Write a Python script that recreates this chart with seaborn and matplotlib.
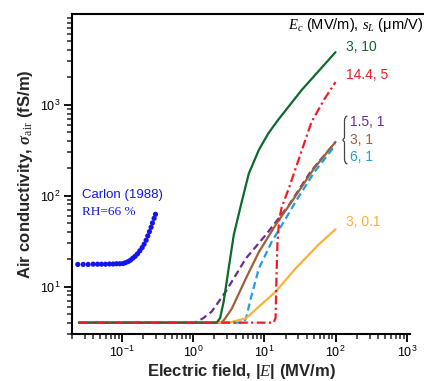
import numpy as np
import pandas as pd
import matplotlib
matplotlib.use("Agg")
import matplotlib.pyplot as plt
from matplotlib.lines import Line2D
from matplotlib.path import Path
from matplotlib.patches import PathPatch
from matplotlib.ticker import LogLocator, NullFormatter
import seaborn as sns

# ---------------- data ----------------
# Carlon (1988), RH = 66 %
carlon_E = [0.0241, 0.0287, 0.0337, 0.0396, 0.0456, 0.0518, 0.0590, 0.0671, 0.0755,
            0.0842, 0.0937, 0.104, 0.1126, 0.1227, 0.1323, 0.1427, 0.1538, 0.166,
            0.179, 0.193, 0.2057, 0.2195, 0.2317, 0.2445, 0.258, 0.2693, 0.2843, 0.297]
carlon_s = [17.5, 17.5, 17.5, 17.6, 17.6, 17.6, 17.6, 17.7, 17.7,
            17.8, 17.8, 17.9, 18.3, 18.8, 19.5, 20.5, 21.5, 22.9,
            24.7, 26.8, 29.2, 32.3, 36.1, 40.2, 44.9, 50.1, 56.3, 62.4]

# model curves: E (MV/m) and sigma (fS/m)
green_E = [0.025, 2.15, 2.4, 2.69, 3.16, 3.73, 4.83, 6.05, 8.4, 11.5, 15.8, 33.6, 100]
green_s = [4, 4, 4.5, 6.8, 15.8, 37, 86, 174, 320, 490, 690, 1460, 3800]

red_E = [0.025, 13.5, 14.4, 14.8, 15.3, 16.2, 17.6, 22, 30, 46, 70, 100]
red_s = [4, 4, 4.5, 12, 30, 55, 75, 119, 243, 646, 1160, 1780]

purple_E = [0.025, 1.0, 1.13, 1.4, 1.83, 2.88, 5.5, 10.5, 22, 45, 100]
purple_s = [4, 4, 4.1, 4.5, 5.3, 8.8, 20.3, 37, 78, 185, 390]

brown_E = [0.025, 2.5, 2.8, 3.5, 5.5, 8.4, 14.5, 24.3, 50, 100]
brown_s = [4, 4, 4.4, 5.7, 12.2, 24, 48, 86, 200, 390]

blue_E = [0.025, 5.15, 5.6, 6.46, 8.4, 12.7, 20, 27.5, 50, 100]
blue_s = [4, 4, 4.6, 7.4, 15.8, 31, 56, 86, 180, 363]

orange_E = [0.025, 3.18, 5.5, 9, 14.5, 27.5, 58, 100]
orange_s = [4, 4, 4.45, 6.3, 8.8, 15.8, 29, 42.6]

labels = ["3, 10", "14.4, 5", "1.5, 1", "3, 1", "6, 1", "3, 0.1"]

# ---------------- style ----------------
sns.set_theme(style="ticks")
plt.rcParams["font.family"] = ["Liberation Sans", "DejaVu Sans"]
plt.rcParams["mathtext.fontset"] = "custom"
plt.rcParams["mathtext.rm"] = "Liberation Serif"
plt.rcParams["mathtext.it"] = "Liberation Serif:italic"
plt.rcParams["mathtext.bf"] = "Liberation Serif:bold"
plt.rcParams["mathtext.bfit"] = "Liberation Serif:italic:bold"

W, H = 424, 381
fig = plt.figure(figsize=(W / 100, H / 100), dpi=100)
L, R, T, B = 72, 410, 14, 334
ax = fig.add_axes([L / W, 1 - B / H, (R - L) / W, (B - T) / H])

c_green = "#0b6a2c"
c_red = "#ee1c25"
c_purple = "#6b2d8f"
c_brown = "#9c6236"
c_blue = "#1ea0e0"
c_orange = "#fbb03b"
c_carlon = "#1414f0"

lw = 1.6
sns.lineplot(x=purple_E, y=purple_s, ax=ax, color=c_purple, lw=lw, linestyle=(0, (3.2, 1.8)))
sns.lineplot(x=brown_E, y=brown_s, ax=ax, color=c_brown, lw=lw)
sns.lineplot(x=blue_E, y=blue_s, ax=ax, color=c_blue, lw=lw, linestyle=(0, (3.2, 1.8)))
sns.lineplot(x=orange_E, y=orange_s, ax=ax, color=c_orange, lw=lw)
sns.lineplot(x=green_E, y=green_s, ax=ax, color=c_green, lw=lw)
sns.lineplot(x=red_E, y=red_s, ax=ax, color=c_red, lw=lw, linestyle=(0, (4, 1.5, 1, 1.5)))
sns.scatterplot(x=carlon_E, y=carlon_s, ax=ax, color=c_carlon, s=14, edgecolor="none")

ax.set_xscale("log")
ax.set_yscale("log")
ax.set_xlim(0.02, 1110)
ax.set_ylim(3, 10000)

ax.xaxis.set_major_locator(LogLocator(base=10, numticks=10))
ax.xaxis.set_minor_locator(LogLocator(base=10, subs=np.arange(2, 10), numticks=20))
ax.yaxis.set_major_locator(LogLocator(base=10, numticks=10))
ax.yaxis.set_minor_locator(LogLocator(base=10, subs=np.arange(2, 10), numticks=20))
ax.xaxis.set_minor_formatter(NullFormatter())
ax.yaxis.set_minor_formatter(NullFormatter())
ax.set_xticks([0.1, 1, 10, 100, 1000])
ax.set_yticks([10, 100, 1000])

ax.tick_params(which="major", direction="out", length=6, width=1.3, labelsize=9,
               colors="black", pad=2)
ax.tick_params(which="minor", direction="out", length=3.5, width=1.1)
for side in ["left", "bottom", "top"]:
    ax.spines[side].set_linewidth(1.5)
    ax.spines[side].set_color("black")
ax.spines["right"].set_visible(False)
fig.add_artist(Line2D([R / W, 1.0], [1 - T / H, 1 - T / H], transform=fig.transFigure,
                      color="black", lw=1.5, solid_capstyle="butt"))

ax.set_xlabel(r"Electric field, |$E$| (MV/m)", fontsize=12, fontweight="bold", labelpad=1)
ax.set_ylabel(r"Air conductivity, $\boldsymbol{\sigma}_{\mathrm{air}}$ (fS/m)",
              fontsize=12, fontweight="bold", labelpad=4)

def axpos(px, py):
    return (px - L) / (R - L), (B - py) / (B - T)

def put(px, py, s, color, **kw):
    x, y = axpos(px, py)
    ax.text(x, y, s, transform=ax.transAxes, color=color, va="center", ha="left", **kw)

put(288, 25, r"$E_c$ (MV/m), $s_L$ (μm/V)", "black", fontsize=10.5)
put(346, 47, labels[0], c_green, fontsize=10)
put(346, 75, labels[1], c_red, fontsize=10)
put(350, 122, labels[2], c_purple, fontsize=10)
put(350, 140, labels[3], c_brown, fontsize=10)
put(350, 157, labels[4], c_blue, fontsize=10)
put(346, 222, labels[5], c_orange, fontsize=10)
put(82, 195, "Carlon (1988)", c_carlon, fontsize=9.5)
put(82, 212, "RH=66 %", c_carlon, fontsize=9.5, family="Liberation Serif")

# curly brace grouping the three s_L = 1 labels (decoration, figure pixels)
bx = [347.5, 344.5, 344.5, 344.5, 341.5, 344.5, 344.5, 344.5, 347.5]
by = [116.0, 116.5, 121.0, 138.0, 140.0, 142.0, 159.0, 163.5, 164.0]
verts = [(x / W, 1 - y / H) for x, y in zip(bx, by)]
codes = [Path.MOVETO, Path.CURVE3, Path.CURVE3, Path.LINETO, Path.CURVE3, Path.CURVE3,
         Path.LINETO, Path.CURVE3, Path.CURVE3]
fig.add_artist(PathPatch(Path(verts, codes), transform=fig.transFigure, fill=False,
                         edgecolor="#444444", lw=0.9))

fig.savefig("out.png", dpi=100)
